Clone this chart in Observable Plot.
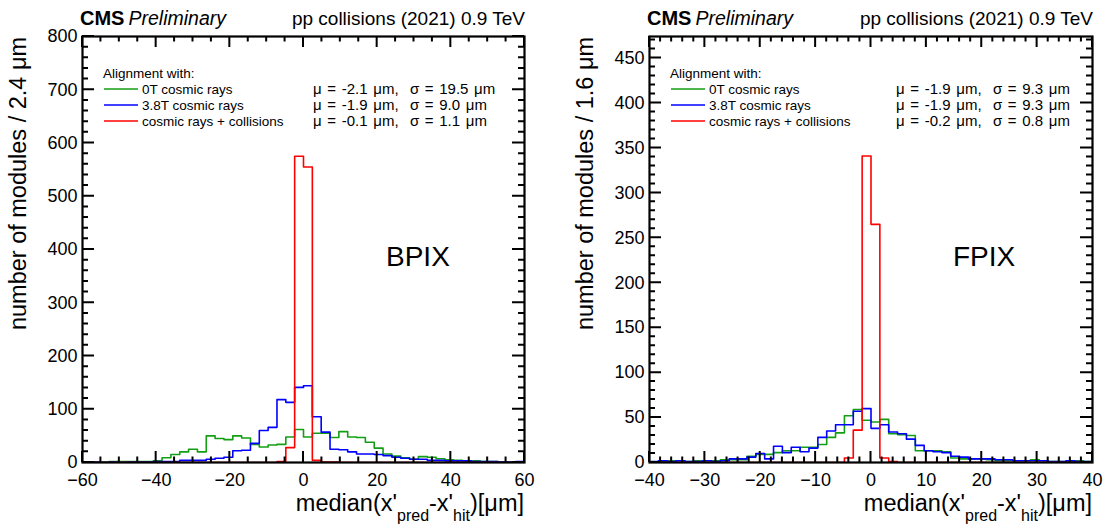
<!DOCTYPE html>
<html>
<head>
<meta charset="utf-8">
<script src="https://cdn.jsdelivr.net/npm/d3@7"></script>
<script src="https://cdn.jsdelivr.net/npm/@observablehq/plot@0.6"></script>
<style>
  html, body { margin: 0; padding: 0; background: #fff; }
  #wrap { position: relative; width: 1107px; height: 527px; overflow: hidden; background: #fff;
          font-family: "Liberation Sans", Arial, sans-serif; }
  #wrap > svg, #wrap > figure { position: absolute; top: 0; margin: 0; }
  #overlay { left: 0; top: 0; pointer-events: none; }
</style>
</head>
<body>
<div id="wrap"></div>
<script>
// ---------------- data ----------------
const seriesLabels = ["0T cosmic rays", "3.8T cosmic rays", "cosmic rays + collisions"];
const seriesColors = ["#149e14", "#0000ff", "#ff0000"];

// BPIX: 50 bins of 2.4 um from -60 to 60
const bpixLo = -60, bpixBinWidth = 2.4;
const bpix0T = [0,0,1,2,2,2,2,2,3,9, 15,20,25,20,50,45,43,50,46,34, 29,33,34,48,62,48,55,55,47,58, 48,47,38,27,16,12,9,6,11,10, 7,5,4,3,3,2,2,1,1,1];
const bpix38T = [0,1,0,1,0,1,1,1,2,2, 2,4,4,4,6,8,10,22,23,36, 60,66,118,113,141,144,86,57,25,24, 20,16,16,15,13,10,8,6,6,4, 4,3,3,3,2,2,2,1,1,2];
const bpixColl = [0,0,0,0,0,0,0,0,0,0, 0,0,0,0,0,0,0,0,0,0, 0,0,2,28,575,555,4,1,1,0, 0,0,0,0,0,0,0,0,0,0, 0,0,0,0,0,0,0,0,0,0];
const bpixStats = ["\u03bc = -2.1 \u03bcm,  \u03c3 = 19.5 \u03bcm", "\u03bc = -1.9 \u03bcm,  \u03c3 = 9.0 \u03bcm", "\u03bc = -0.1 \u03bcm,  \u03c3 = 1.1 \u03bcm"];
const bpixXTicks = [-60, -40, -20, 0, 20, 40, 60];
const bpixXMinorStep = 5;
const bpixYTicks = [0, 100, 200, 300, 400, 500, 600, 700, 800];
const bpixYMinorStep = 20;
const bpixYMax = 800;

// FPIX: 50 bins of 1.6 um from -40 to 40
const fpixLo = -40, fpixBinWidth = 1.6;
const fpix0T = [0,1,2,2,1,2,2,2,3,3, 3,7,9,9,11,13,13,17,17,20, 28,33,52,59,47,45,48,32,31,30, 13,13,13,12,5,4,4,4,3,2, 2,2,2,3,2,1,1,1,2,1];
const fpix38T = [1,2,1,2,1,1,2,1,2,4, 4,6,10,4,18,11,17,12,16,28, 35,42,42,57,60,38,42,34,32,26, 19,13,12,11,7,6,4,4,4,3, 3,2,2,2,2,1,1,2,1,1];
const fpixColl = [0,0,0,0,0,0,0,0,0,0, 0,0,0,0,0,0,0,0,0,0, 0,0,5,36,341,265,5,1,0,0, 0,0,0,0,0,0,0,0,0,0, 0,0,0,0,0,0,0,0,0,0];
const fpixStats = ["\u03bc = -1.9 \u03bcm,  \u03c3 = 9.3 \u03bcm", "\u03bc = -1.9 \u03bcm,  \u03c3 = 9.3 \u03bcm", "\u03bc = -0.2 \u03bcm,  \u03c3 = 0.8 \u03bcm"];
const fpixXTicks = [-40, -30, -20, -10, 0, 10, 20, 30, 40];
const fpixXMinorStep = 2;
const fpixYTicks = [0, 50, 100, 150, 200, 250, 300, 350, 400, 450];
const fpixYMinorStep = 10;
const fpixYMax = 474;

// ---------------- helpers ----------------
const NS = "http://www.w3.org/2000/svg";
const FONT = "'Liberation Sans', Arial, Helvetica, sans-serif";

function histPoints(values, lo, w) {
  const pts = [{x: lo, y: 0}];
  values.forEach((v, i) => pts.push({x: lo + i * w, y: v}));
  const hi = lo + values.length * w;
  pts.push({x: hi, y: values[values.length - 1]});
  pts.push({x: hi, y: 0});
  return pts;
}

function rootTicks(xMajor, xMinorStep, yMajor, yMinorStep, domX, domY) {
  return (index, scales, values, dims) => {
    const {x, y} = scales;
    const l = dims.marginLeft, t = dims.marginTop;
    const r = dims.width - dims.marginRight, b = dims.height - dims.marginBottom;
    const MAJ = 11, MIN = 5.5, MAJY = 12, MINY = 6;
    let d = "";
    const xMin = [];
    for (let v = domX[0]; v <= domX[1] + 1e-9; v += xMinorStep) xMin.push(+v.toFixed(6));
    const yMin = [];
    for (let v = domY[0]; v <= domY[1] + 1e-9; v += yMinorStep) yMin.push(+v.toFixed(6));
    for (const v of xMin) {
      const len = xMajor.includes(v) ? MAJ : MIN;
      const px = x(v);
      d += `M${px},${b}v${-len}M${px},${t}v${len}`;
    }
    for (const v of yMin) {
      const len = yMajor.includes(v) ? MAJY : MINY;
      const py = y(v);
      d += `M${l},${py}h${len}M${r},${py}h${-len}`;
    }
    const p = document.createElementNS(NS, "path");
    p.setAttribute("d", d);
    p.setAttribute("stroke", "#000");
    p.setAttribute("stroke-width", "2");
    p.setAttribute("fill", "none");
    return p;
  };
}

function panel(cfg) {
  const hi = cfg.lo + 50 * cfg.w;
  return Plot.plot({
    width: cfg.width, height: 527,
    marginLeft: cfg.marginLeft, marginRight: cfg.marginRight, marginTop: 36, marginBottom: 65,
    x: {domain: [cfg.lo, hi]},
    y: {domain: [0, cfg.yMax]},
    style: {fontFamily: FONT, fontSize: "18px", background: "white", color: "black", overflow: "visible"},
    marks: [
      ...cfg.series.map((vals, i) => Plot.line(histPoints(vals, cfg.lo, cfg.w), {
        x: "x", y: "y", curve: "step-after", stroke: seriesColors[i], strokeWidth: 1.6, clip: true
      })),
      Plot.frame({stroke: "black", strokeWidth: 2.2}),
      rootTicks(cfg.xTicks, cfg.xMinorStep, cfg.yTicks, cfg.yMinorStep, [cfg.lo, hi], [0, cfg.yMax]),
      Plot.axisX(cfg.xTicks, {tickSize: 0, tickPadding: 11, fontSize: 18, label: null}),
      Plot.axisY(cfg.yTicks, {tickSize: 0, tickPadding: 5, fontSize: 18, label: null})
    ]
  });
}

const wrap = document.getElementById("wrap");

const left = panel({lo: bpixLo, w: bpixBinWidth, series: [bpix0T, bpix38T, bpixColl],
  xTicks: bpixXTicks, xMinorStep: bpixXMinorStep, yTicks: bpixYTicks, yMinorStep: bpixYMinorStep, yMax: bpixYMax,
  width: 553, marginLeft: 82, marginRight: 29});
left.style.left = "0px";
wrap.appendChild(left);

const right = panel({lo: fpixLo, w: fpixBinWidth, series: [fpix0T, fpix38T, fpixColl],
  xTicks: fpixXTicks, xMinorStep: fpixXMinorStep, yTicks: fpixYTicks, yMinorStep: fpixYMinorStep, yMax: fpixYMax,
  width: 554, marginLeft: 96, marginRight: 15});
right.style.left = "553px";
wrap.appendChild(right);

// ---------------- overlay texts ----------------
const ov = document.createElementNS(NS, "svg");
ov.setAttribute("id", "overlay");
ov.setAttribute("width", 1107);
ov.setAttribute("height", 527);
ov.style.fontFamily = FONT;
wrap.appendChild(ov);

function txt(parent, x, y, str, attrs = {}) {
  const e = document.createElementNS(NS, "text");
  e.setAttribute("x", x); e.setAttribute("y", y);
  e.setAttribute("fill", "#000");
  for (const k in attrs) e.setAttribute(k, attrs[k]);
  if (str != null) e.textContent = str;
  parent.appendChild(e);
  return e;
}
function tspan(parent, str, attrs = {}) {
  const e = document.createElementNS(NS, "tspan");
  for (const k in attrs) e.setAttribute(k, attrs[k]);
  e.textContent = str;
  parent.appendChild(e);
  return e;
}

function decorate(fl, fr, binLabel, detector, stats, statsX) {
  // header
  const cms = txt(ov, fl - 2, 25, null, {"font-size": 20});
  tspan(cms, "CMS", {"font-weight": "bold"});
  tspan(cms, "Preliminary", {"font-style": "italic", "font-size": 19.5, dx: 4});
  txt(ov, fr + 1, 25, "pp collisions (2021) 0.9 TeV", {"font-size": 19, "text-anchor": "end"});
  // legend
  txt(ov, fl + 21, 78, "Alignment with:", {"font-size": 13.5});
  seriesLabels.forEach((lab, i) => {
    const by = 94 + i * 16;
    const ln = document.createElementNS(NS, "line");
    ln.setAttribute("x1", fl + 22); ln.setAttribute("x2", fl + 56);
    ln.setAttribute("y1", by - 5); ln.setAttribute("y2", by - 5);
    ln.setAttribute("stroke", seriesColors[i]); ln.setAttribute("stroke-width", 1.6);
    ov.appendChild(ln);
    txt(ov, fl + 60, by, lab, {"font-size": 13.5});
    txt(ov, statsX, by, stats[i], {"font-size": 15, "word-spacing": "1.5px", "style": "white-space:pre"});
  });
  // detector label
  txt(ov, fl + 304, 266, detector, {"font-size": 28});
  // x title
  const xt = txt(ov, fr, 511, null, {"font-size": 23.5, "text-anchor": "end"});
  tspan(xt, "median(x'");
  tspan(xt, "pred", {"font-size": 16, dy: 10});
  tspan(xt, "-x'", {dy: -10});
  tspan(xt, "hit", {"font-size": 16, dy: 10});
  tspan(xt, ")[\u03bcm]", {dy: -10});
  // y title
  txt(ov, 0, 0, `number of modules / ${binLabel} \u03bcm`, {
    "font-size": 23.5, "text-anchor": "end", transform: `translate(${fl - 56},37) rotate(-90)`
  });
}

decorate(82, 524, "2.4", "BPIX", bpixStats, 313);
decorate(649, 1092, "1.6", "FPIX", fpixStats, 896);
</script>
</body>
</html>
